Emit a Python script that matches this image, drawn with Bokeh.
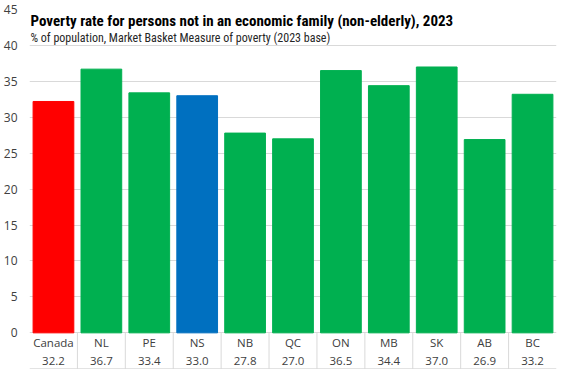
from bokeh.plotting import figure
from bokeh.models import FixedTicker, Range1d, ColumnDataSource, Label
from bokeh.core.properties import value
from bokeh.embed import file_html
from bokeh.resources import INLINE

categories = ["Canada", "NL", "PE", "NS", "NB", "QC", "ON", "MB", "SK", "AB", "BC"]
rates = [32.2, 36.7, 33.4, 33.0, 27.8, 27.0, 36.5, 34.4, 37.0, 26.9, 33.2]
colors = ["#FF0000", "#00B050", "#00B050", "#0070C0", "#00B050", "#00B050",
          "#00B050", "#00B050", "#00B050", "#00B050", "#00B050"]
y_ticks = [0, 5, 10, 15, 20, 25, 30, 35, 40, 45]
title_text = "Poverty rate for persons not in an economic family (non-elderly),  2023"
subtitle_text = "% of population, Market Basket Measure of poverty (2023 base)"

n = len(categories)
xs = list(range(n))
src = ColumnDataSource(dict(x=xs, top=rates, color=colors, cat=categories,
                            val=[f"{v:.1f}" for v in rates]))

NARROW = "'Roboto Condensed', 'DejaVu Sans Condensed', 'Liberation Sans Narrow', 'Open Sans', sans-serif"
FONT = "Open Sans"

p = figure(width=560, height=369, output_backend="svg", toolbar_location=None,
           x_range=Range1d(-0.5, n - 0.5), y_range=Range1d(-5.1, 45),
           min_border_left=22, min_border_right=4, min_border_top=9, min_border_bottom=0)
p.outline_line_color = None
p.background_fill_color = "white"
p.border_fill_color = "white"

p.vbar(x="x", top="top", width=0.85, bottom=0, color="color", source=src)

# axes
p.xaxis.visible = False
p.yaxis.ticker = FixedTicker(ticks=y_ticks)
p.yaxis.axis_line_color = None
p.yaxis.major_tick_line_color = None
p.yaxis.minor_tick_line_color = None
p.yaxis.major_label_text_font = FONT
p.yaxis.major_label_text_font_size = "12px"
p.yaxis.major_label_text_color = "#404040"
p.yaxis.major_label_standoff = 6
p.xgrid.visible = False
p.ygrid.ticker = FixedTicker(ticks=y_ticks)
p.ygrid.grid_line_color = "#D9D9D9"
p.ygrid.grid_line_width = 1

# table below axis
p.text(x="x", y=-1.4, text="cat", source=src, text_align="center", text_baseline="middle",
       text_font=value(FONT), text_font_size="11.5px", text_color="#404040")
p.text(x="x", y=-3.85, text="val", source=src, text_align="center", text_baseline="middle",
       text_font=value(FONT), text_font_size="11.5px", text_color="#404040")
sep_x = [i + 0.5 for i in range(n - 1)]
p.segment(x0=sep_x, y0=[0] * len(sep_x), x1=sep_x, y1=[-5.1] * len(sep_x),
          line_color="#D9D9D9", line_width=1)
p.segment(x0=[-0.5], y0=[-5.0], x1=[n - 0.5], y1=[-5.0], line_color="#D9D9D9", line_width=1)

# titles
p.add_layout(Label(x=-0.5, y=43.4, x_offset=1, text=title_text, text_font=NARROW,
                   text_font_style="bold", text_font_size="15px", text_color="#000000",
                   text_baseline="middle"))
p.add_layout(Label(x=-0.5, y=41.1, x_offset=1, text=subtitle_text, text_font=NARROW,
                   text_font_size="12px", text_color="#262626", text_baseline="middle"))

open("out.html", "w").write(file_html(p, INLINE))
